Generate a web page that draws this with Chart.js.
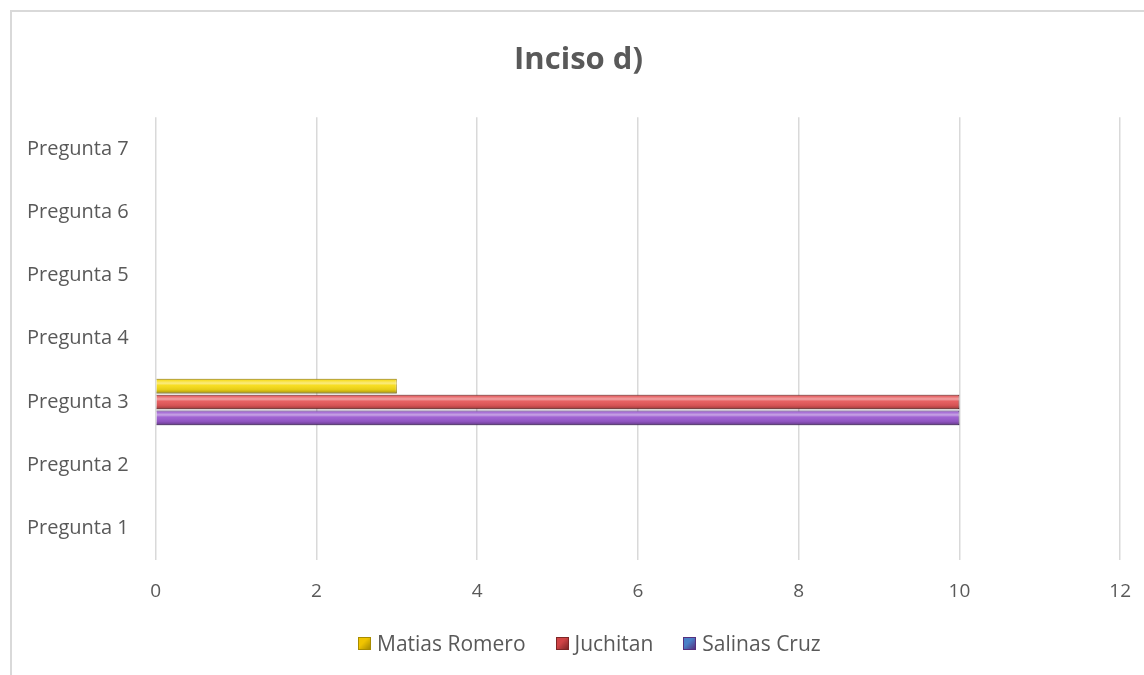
<!DOCTYPE html>
<html lang="es">
<head>
    <meta charset="UTF-8">
    <title>Inciso d)</title>
    <style>
        body {
            margin: 0;
            padding: 0;
            background-color: #ffffff;
            overflow: hidden;
            font-family: "Open Sans", "Liberation Sans", sans-serif;
        }

        .frame {
            position: absolute;
            left: 10px;
            top: 10px;
            width: 1150px;
            height: 680px;
            border: 2px solid #d9d9d9;
            box-sizing: border-box;
        }

        .chart-box {
            position: absolute;
            left: 0;
            top: 12px;
            width: 1151px;
            height: 663px;
        }

        .legend {
            position: absolute;
            left: 358px;
            top: 629px;
            display: flex;
            align-items: center;
            color: #595959;
            font-size: 21px;
            white-space: nowrap;
        }

        .legend span.item {
            display: flex;
            align-items: center;
            margin-right: 30px;
        }

        .legend span.box {
            display: inline-block;
            width: 13px;
            height: 13px;
            margin-right: 6px;
            box-sizing: border-box;
        }
    </style>
</head>
<body>
    <div class="frame"></div>
    <div class="chart-box">
        <canvas id="inciso-chart"></canvas>
    </div>
    <div class="legend" id="legend"></div>

    <script src="https://cdn.jsdelivr.net/npm/chart.js"></script>
    <script>
        // Datos (Pregunta 1 abajo, Pregunta 7 arriba)
        const preguntas = ['Pregunta 1', 'Pregunta 2', 'Pregunta 3', 'Pregunta 4', 'Pregunta 5', 'Pregunta 6', 'Pregunta 7'];
        const matiasRomero = [0, 0, 3, 0, 0, 0, 0];
        const juchitan = [0, 0, 10, 0, 0, 0, 0];
        const salinasCruz = [0, 0, 10, 0, 0, 0, 0];
        const xTicks = [0, 2, 4, 6, 8, 10, 12];

        const textColor = '#595959';
        const fontFamily = '"Open Sans", "Liberation Sans", sans-serif';

        // colores de barra y de leyenda (en el original no coinciden para Salinas Cruz)
        const barColors = ['#f7dc17', '#e5585a', '#9b5bd0'];
        const barBorders = ['#a88c00', '#7e2626', '#56307e'];
        const legendColors = ['#f0c400', '#d04446', '#4a80c8'];

        // brillo tipo bisel encima de cada barra (usa las posiciones calculadas por Chart.js)
        const bevelPlugin = {
            id: 'bevel',
            afterDatasetsDraw: function(ch) {
                const c = ch.ctx;
                ch.data.datasets.forEach(function(ds, i) {
                    ch.getDatasetMeta(i).data.forEach(function(bar) {
                        const w = bar.x - bar.base;
                        if (w <= 0) return;
                        const top = bar.y - bar.height / 2;
                        const h = bar.height;
                        const g = c.createLinearGradient(0, top, 0, top + h);
                        g.addColorStop(0, 'rgba(0,0,0,0.15)');
                        g.addColorStop(0.12, 'rgba(255,255,255,0.1)');
                        g.addColorStop(0.3, 'rgba(255,255,255,0.45)');
                        g.addColorStop(0.45, 'rgba(255,255,255,0.05)');
                        g.addColorStop(0.75, 'rgba(0,0,0,0.08)');
                        g.addColorStop(1, 'rgba(0,0,0,0.35)');
                        c.save();
                        c.fillStyle = g;
                        c.fillRect(bar.base, top, w, h);
                        c.restore();
                    });
                });
            }
        };

        // Chart.js pinta la primera etiqueta arriba, así que se invierte el orden
        const labels = preguntas.slice().reverse();

        const chart = new Chart(document.getElementById('inciso-chart'), {
            type: 'bar',
            data: {
                labels: labels,
                datasets: [
                    { label: 'Matias Romero', data: matiasRomero.slice().reverse() },
                    { label: 'Juchitan', data: juchitan.slice().reverse() },
                    { label: 'Salinas Cruz', data: salinasCruz.slice().reverse() }
                ].map(function(ds, i) {
                    ds.backgroundColor = barColors[i];
                    ds.borderColor = barBorders[i];
                    ds.borderWidth = 1;
                    ds.categoryPercentage = 0.75;
                    ds.barPercentage = 0.93;
                    return ds;
                })
            },
            plugins: [bevelPlugin],
            options: {
                indexAxis: 'y',
                responsive: true,
                maintainAspectRatio: false,
                animation: false,
                layout: {
                    padding: { left: 8, right: 2, top: 8, bottom: 52 }
                },
                plugins: {
                    title: {
                        display: true,
                        text: 'Inciso d)',
                        color: textColor,
                        font: { family: fontFamily, size: 31, weight: 'bold' },
                        padding: { top: 22, bottom: 38 }
                    },
                    legend: { display: false },
                    tooltip: { enabled: false }
                },
                scales: {
                    x: {
                        min: 0,
                        max: 12,
                        afterBuildTicks: function(axis) {
                            axis.ticks = xTicks.map(function(v) { return { value: v }; });
                        },
                        grid: {
                            color: '#d9d9d9',
                            lineWidth: 1.5,
                            drawTicks: false
                        },
                        border: { display: false },
                        ticks: {
                            color: textColor,
                            font: { family: fontFamily, size: 19 },
                            padding: 20
                        }
                    },
                    y: {
                        grid: { display: false },
                        border: { display: false },
                        ticks: {
                            color: textColor,
                            font: { family: fontFamily, size: 20 },
                            padding: 19
                        }
                    }
                }
            }
        });

        // leyenda en HTML, en el mismo orden que el original
        const legendEl = document.getElementById('legend');
        chart.data.datasets.forEach(function(ds, i) {
            const item = document.createElement('span');
            item.className = 'item';
            const box = document.createElement('span');
            box.className = 'box';
            box.style.background = 'linear-gradient(135deg, ' + legendColors[i] + ' 40%, ' + barBorders[i] + ' 100%)';
            box.style.border = '1px solid ' + barBorders[i];
            item.appendChild(box);
            item.appendChild(document.createTextNode(ds.label));
            legendEl.appendChild(item);
        });
    </script>
</body>
</html>
